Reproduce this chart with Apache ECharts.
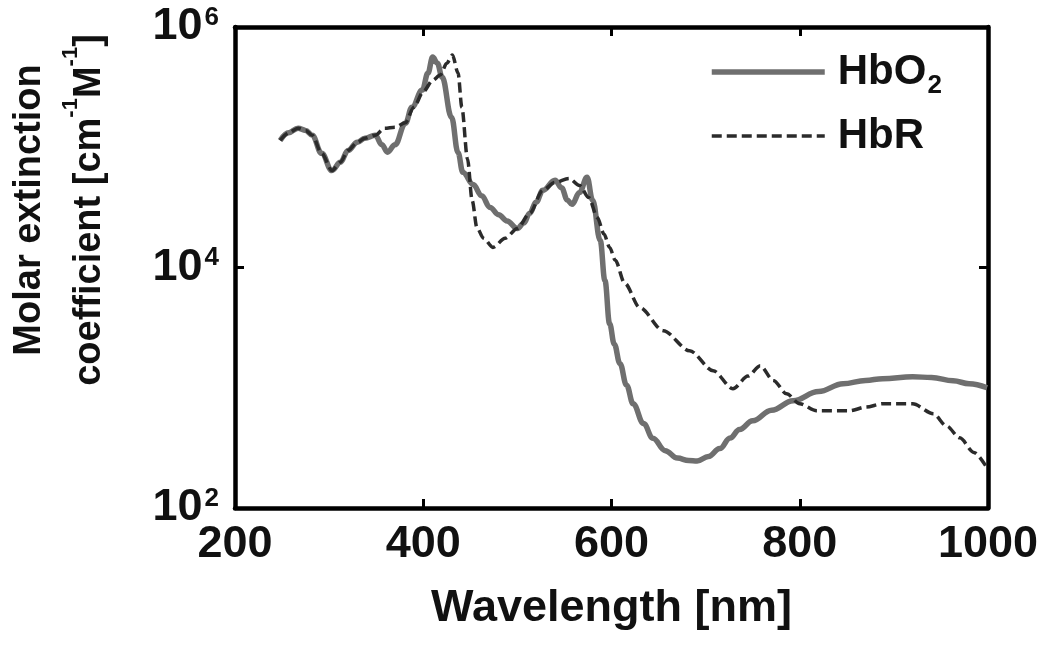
<!DOCTYPE html>
<html>
<head>
<meta charset="utf-8">
<script src="https://cdn.jsdelivr.net/npm/echarts@6/dist/echarts.min.js"></script>
<style>
  html, body { margin: 0; padding: 0; background: #fff; }
  #chart { width: 1050px; height: 654px; }
</style>
</head>
<body>
<div id="chart"></div>
<script>
// ---- data ----
const seriesNames = ['HbO2', 'HbR'];
const xTicks = [200, 400, 600, 800, 1000];

const hbo2Wavelength = [248, 257, 267, 275, 282, 292, 303, 312, 320, 330, 338, 349, 356, 362, 370, 381, 388, 399, 405, 410, 415, 420, 430, 437, 442, 453, 462, 471, 480, 489, 500, 507, 513, 520, 527, 540, 547, 553, 558, 566, 574, 580, 588, 593, 598, 603, 609, 616, 623, 634, 644, 657, 670, 682, 691, 703, 715, 726, 736, 750, 770, 793, 820, 846, 870, 888, 920, 940, 963, 980, 999];
const hbo2Values = [114000, 132000, 144000, 138000, 126000, 89000, 64000, 75000, 94000, 110000, 119000, 126000, 105000, 91000, 105000, 158000, 215000, 299000, 414000, 562000, 500000, 383000, 178000, 90000, 62000, 49000, 39500, 31600, 27500, 24400, 21100, 23500, 28200, 35000, 43800, 53100, 46000, 36500, 33500, 42000, 56200, 36200, 16800, 7800, 3400, 2300, 1585, 1050, 736, 505, 380, 300, 260, 248, 246, 268, 312, 382, 450, 531, 650, 780, 930, 1080, 1150, 1190, 1236, 1215, 1143, 1080, 1000];

const hbrWavelength = [248, 257, 267, 275, 282, 292, 303, 312, 320, 330, 338, 349, 359, 370, 381, 390, 400, 410, 418, 425, 431, 437, 441, 447, 452, 457, 464, 474, 487, 500, 513, 527, 540, 555, 566, 576, 585, 592, 598, 604, 614, 630, 655, 683, 708, 729, 745, 758, 772, 786, 800, 818, 853, 870, 888, 920, 942, 956, 970, 985, 999];
const hbrValues = [114000, 132000, 144000, 138000, 126000, 89000, 64000, 75000, 94000, 110000, 119000, 126000, 144000, 147000, 160000, 215000, 290000, 360000, 398000, 500000, 584000, 414000, 215000, 80000, 36000, 21500, 17500, 14700, 17500, 21100, 28200, 43800, 51000, 55000, 48000, 38000, 26000, 19000, 14700, 11500, 7400, 4640, 2985, 2030, 1386, 980, 1250, 1525, 1150, 891, 736, 643, 643, 690, 736, 736, 607, 480, 383, 290, 215];

const yTickExponents = [2, 4, 6];

// ---- chart ----
const FONT = 'Liberation Sans, Arial, sans-serif';
const pairs = (xs, ys) => xs.map((x, i) => [x, ys[i]]);

const chart = echarts.init(document.getElementById('chart'), null, { renderer: 'canvas' });

const axisLine = { show: true, lineStyle: { color: '#000', width: 4.5 } };
const tick = { show: true, inside: true, length: 9, lineStyle: { color: '#000', width: 3 } };

const solidStyle = { color: '#6f6f6f', width: 5.5, type: 'solid' };
const dashStyle = { color: '#2b2b2b', width: 3.5, type: [10, 5] };

const option = {
  backgroundColor: '#fff',
  animation: false,
  grid: { left: 235, right: 62, top: 27, bottom: 146, containLabel: false },
  legend: {
    orient: 'vertical',
    left: 704,
    top: 46,
    itemWidth: 113,
    itemHeight: 20,
    itemGap: 16,
    data: [
      { name: seriesNames[0], lineStyle: solidStyle, itemStyle: { color: 'transparent', borderColor: 'transparent', borderWidth: 0 } },
      { name: seriesNames[1], lineStyle: dashStyle, itemStyle: { color: 'transparent', borderColor: 'transparent', borderWidth: 0 } }
    ],
    formatter: name => name === 'HbO2' ? 'HbO{sub|2}' : name,
    textStyle: {
      fontFamily: FONT, fontSize: 42, fontWeight: 'bold', color: '#111',
      padding: [0, 0, 0, 8],
      rich: {
        sub: { fontFamily: FONT, fontSize: 26, fontWeight: 'bold', color: '#111', verticalAlign: 'bottom', padding: [28, 0, 0, 1] }
      }
    }
  },
  xAxis: [
    {
      type: 'value', min: 200, max: 1000, interval: 200, position: 'bottom',
      axisLine, axisTick: tick, splitLine: { show: false },
      axisLabel: { fontFamily: FONT, fontSize: 45, fontWeight: 'bold', color: '#111', margin: 14,
        formatter: v => xTicks.includes(v) ? String(v) : '' },
      name: 'Wavelength [nm]', nameLocation: 'middle', nameGap: 78,
      nameTextStyle: { fontFamily: FONT, fontSize: 45, fontWeight: 'bold', color: '#111' }
    },
    {
      type: 'value', min: 200, max: 1000, interval: 200, position: 'top',
      axisLine, axisTick: tick, axisLabel: { show: false }, splitLine: { show: false }
    }
  ],
  yAxis: [
    {
      type: 'log', logBase: 100, min: 100, max: 1000000, interval: 1, position: 'left',
      axisLine, axisTick: tick, splitLine: { show: false }, minorTick: { show: false },
      axisLabel: {
        margin: 16,
        formatter: v => {
          const e = Math.round(Math.log10(v));
          return yTickExponents.includes(e) ? '{b|10}{s|' + e + '}' : '';
        },
        rich: {
          b: { fontFamily: FONT, fontSize: 45, fontWeight: 'bold', color: '#111' },
          s: { fontFamily: FONT, fontSize: 26, fontWeight: 'bold', color: '#111', verticalAlign: 'top', padding: [0, 0, 14, 2] }
        }
      }
    },
    {
      type: 'log', logBase: 100, min: 100, max: 1000000, interval: 1, position: 'right',
      axisLine, axisTick: tick, axisLabel: { show: false }, splitLine: { show: false }
    }
  ],
  graphic: [
    {
      type: 'text',
      x: 60, y: 210,
      rotation: Math.PI / 2,
      style: {
        text: 'Molar extinction\ncoefficient [cm{s|-1}M{s|-1}]',
        fontFamily: FONT, fontSize: 38, fontWeight: 'bold', fill: '#111',
        align: 'center', verticalAlign: 'middle', lineHeight: 60,
        rich: {
          s: { fontFamily: FONT, fontSize: 22, fontWeight: 'bold', fill: '#111', verticalAlign: 'top', lineHeight: 60, padding: [0, 0, 22, 0] }
        }
      }
    }
  ],
  series: [
    {
      name: seriesNames[0], type: 'line', xAxisIndex: 0, yAxisIndex: 0,
      data: pairs(hbo2Wavelength, hbo2Values),
      showSymbol: false, symbol: 'none', smooth: 0.4, smoothMonotone: 'x',
      lineStyle: solidStyle,
      itemStyle: { color: '#6f6f6f' },
      z: 2
    },
    {
      name: seriesNames[1], type: 'line', xAxisIndex: 0, yAxisIndex: 0,
      data: pairs(hbrWavelength, hbrValues),
      showSymbol: false, symbol: 'none', smooth: 0.3, smoothMonotone: 'x',
      lineStyle: dashStyle,
      itemStyle: { color: '#2b2b2b' },
      z: 3
    }
  ]
};
chart.setOption(option);
</script>
</body>
</html>
